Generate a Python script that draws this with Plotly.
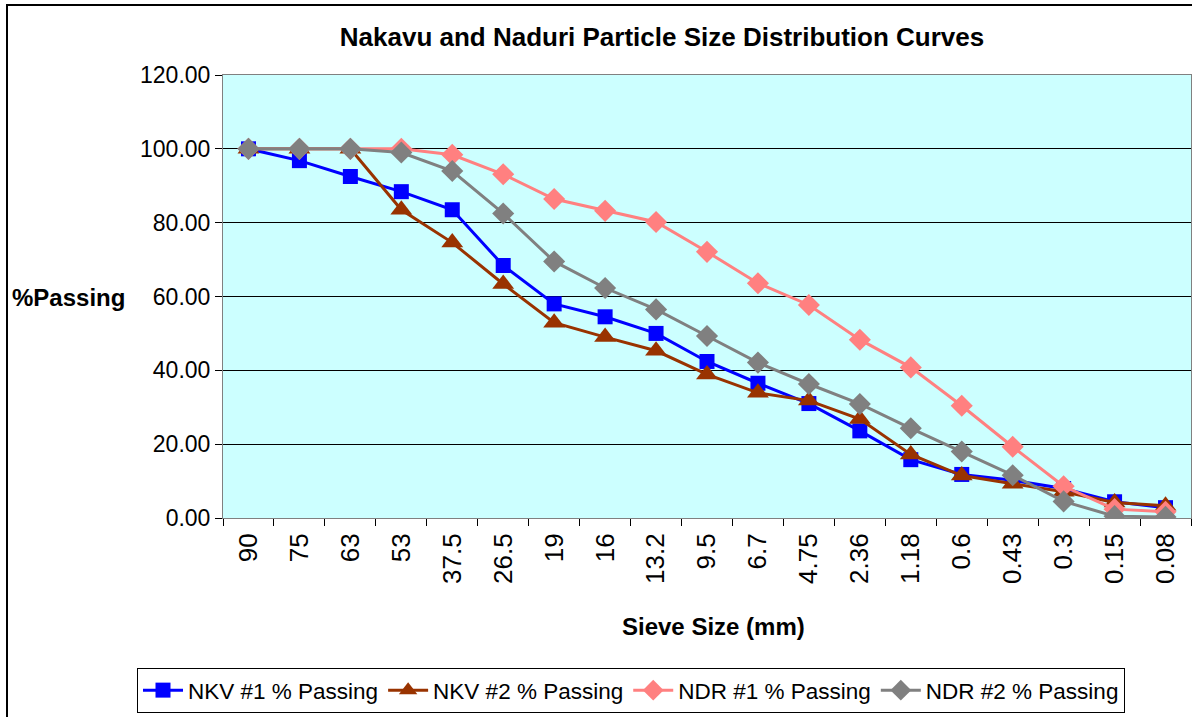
import plotly.graph_objects as go

# Sieve sizes (mm) and percentage passing for each sample
sieve_sizes = ["90", "75", "63", "53", "37.5", "26.5", "19", "16", "13.2", "9.5",
               "6.7", "4.75", "2.36", "1.18", "0.6", "0.43", "0.3", "0.15", "0.08"]

nkv1_passing = [100.0, 96.8, 92.5, 88.4, 83.5, 68.4, 58.0, 54.5, 50.0, 42.4,
                36.5, 31.0, 23.6, 15.8, 11.8, 10.2, 8.0, 4.4, 2.8]
nkv2_passing = [100.0, 100.0, 100.0, 83.5, 74.6, 63.4, 52.9, 49.0, 45.3, 38.9,
                33.9, 31.8, 26.8, 17.2, 11.5, 9.3, 7.1, 4.2, 3.3]
ndr1_passing = [100.0, 100.0, 100.0, 100.0, 98.4, 93.1, 86.4, 83.2, 80.2, 72.1,
                63.6, 57.7, 48.3, 40.8, 30.4, 19.3, 8.6, 2.4, 1.7]
ndr2_passing = [100.0, 100.0, 100.0, 99.0, 94.0, 82.5, 69.5, 62.3, 56.5, 49.3,
                42.1, 36.3, 30.9, 24.3, 18.0, 11.6, 4.5, 0.5, 0.3]

series = [
    ("NKV #1 % Passing", nkv1_passing, "#0000FF", "square", 15),
    ("NKV #2 % Passing", nkv2_passing, "#993300", "triangle-up", 19),
    ("NDR #1 % Passing", ndr1_passing, "#FF8080", "diamond", 17),
    ("NDR #2 % Passing", ndr2_passing, "#808080", "diamond", 17),
]

fig = go.Figure()
for name, vals, color, symbol, size in series:
    fig.add_trace(go.Scatter(
        x=sieve_sizes, y=vals, name=name, mode="lines+markers",
        line=dict(color=color, width=3),
        marker=dict(color=color, symbol=symbol, size=size, line=dict(width=0)),
    ))

font_family = "Liberation Sans, Arial, sans-serif"

fig.update_layout(
    width=1192, height=717,
    margin=dict(l=223, r=1, t=75, b=199),
    paper_bgcolor="white",
    plot_bgcolor="#CCFFFF",
    font=dict(family=font_family, size=23, color="black"),
    showlegend=True,
    legend=dict(
        orientation="h",
        x=(137 - 223) / 968, xanchor="left",
        y=(518 - 668) / 443, yanchor="top",
        bordercolor="black", borderwidth=1,
        font=dict(size=22.5, family=font_family),
        itemwidth=40,
        tracegroupgap=0,
    ),
    title=dict(
        text="<b>Nakavu and Naduri Particle Size Distribution Curves</b>",
        x=662 / 1192, xanchor="center",
        y=1 - 37 / 717, yanchor="middle",
        font=dict(size=26, family=font_family),
    ),
)

fig.update_xaxes(
    type="category",
    range=[-0.5, len(sieve_sizes) - 0.5],
    tickangle=-90,
    ticks="outside", ticklen=7, tickcolor="black", tickson="boundaries",
    ticklabelstandoff=4,
    showline=True, linecolor="#808080", linewidth=1, mirror=True,
    showgrid=False,
    tickfont=dict(size=26),
)
fig.update_yaxes(
    range=[0, 120], dtick=20, tickformat=".2f",
    ticks="outside", ticklen=7, tickcolor="black",
    showline=True, linecolor="#808080", linewidth=1, mirror=True,
    gridcolor="black", gridwidth=1,
    tickfont=dict(size=23),
    zeroline=False,
)

# Axis titles
fig.add_annotation(text="<b>%Passing</b>", xref="paper", yref="paper",
                   x=(68 - 223) / 968, y=(518 - 297) / 443,
                   xanchor="center", yanchor="middle", showarrow=False,
                   font=dict(size=24))
fig.add_annotation(text="<b>Sieve Size (mm)</b>", xref="paper", yref="paper",
                   x=(713 - 223) / 968, y=(518 - 626) / 443,
                   xanchor="center", yanchor="middle", showarrow=False,
                   font=dict(size=24))

# Chart area frame
fig.add_shape(type="rect", xref="paper", yref="paper",
              x0=(7 - 223) / 968, y0=(518 - 730) / 443,
              x1=(1200 - 223) / 968, y1=(518 - 5) / 443,
              line=dict(color="black", width=2), layer="below")

fig.write_html("out.html")
